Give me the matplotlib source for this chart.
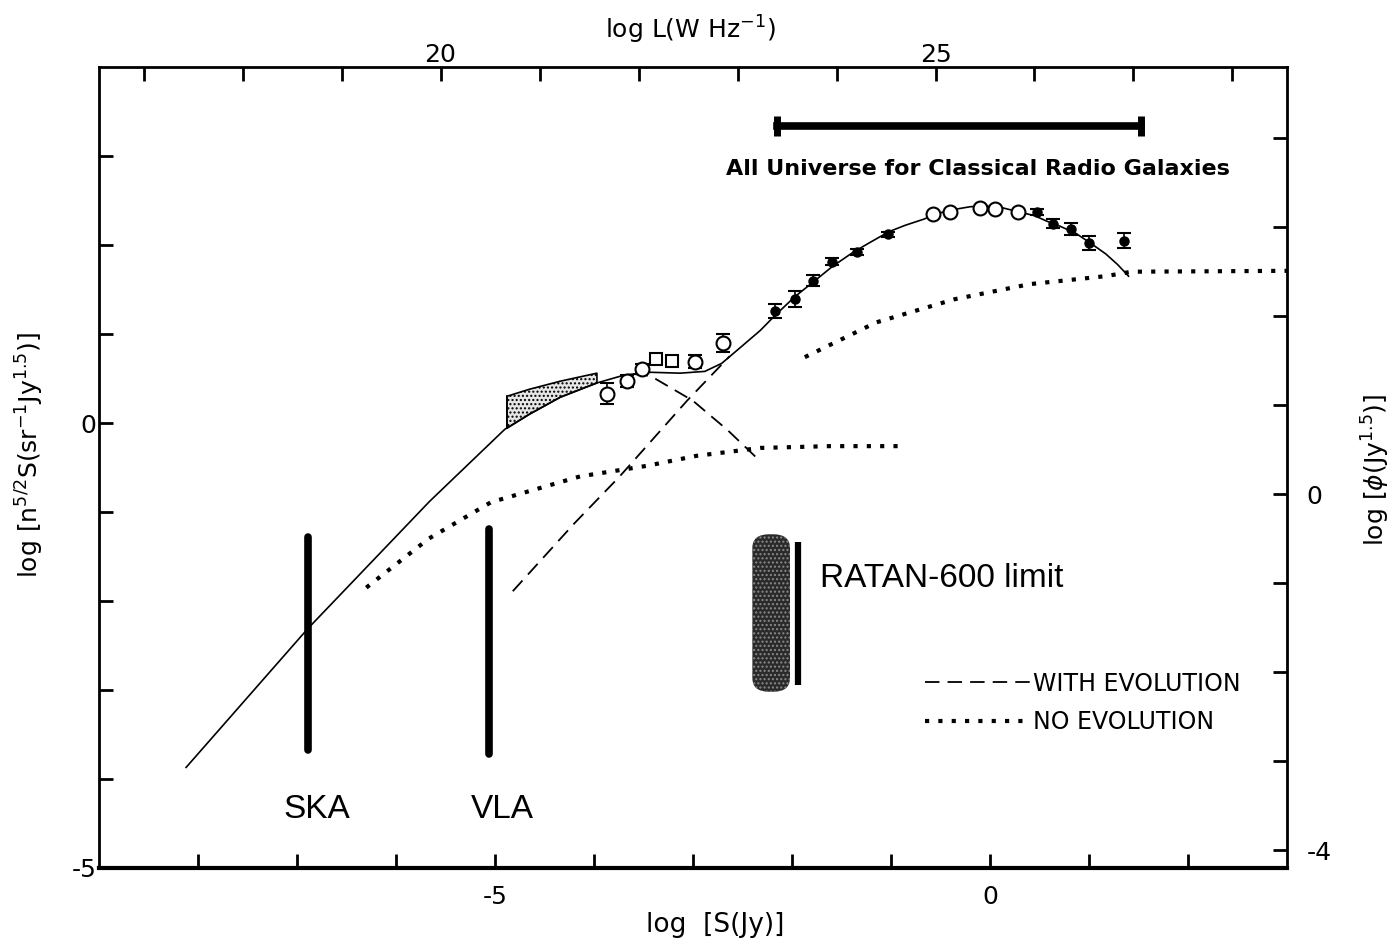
import matplotlib.pyplot as plt
from matplotlib.patches import FancyBboxPatch
from matplotlib.ticker import FixedLocator, FuncFormatter

# model curve: log S (Jy) vs log n^{5/2} S
model_s = [-8.12, -6.89, -5.66, -4.90, -4.65, -4.34, -3.97, -3.69, -3.43, -3.13, -2.88,
           -2.71, -2.53, -2.32, -2.17, -1.97, -1.79, -1.59, -1.38, -1.21, -1.02, -0.86,
           -0.67, -0.51, -0.36, -0.20, -0.05, 0.12, 0.30, 0.45, 0.57, 0.71, 0.87, 1.03,
           1.17, 1.29, 1.40]
model_y = [-3.87, -2.31, -0.88, -0.07, 0.10, 0.29, 0.45, 0.54, 0.57, 0.56, 0.58,
           0.67, 0.84, 1.04, 1.21, 1.42, 1.58, 1.76, 1.92, 2.03, 2.15, 2.22,
           2.29, 2.36, 2.40, 2.43, 2.44, 2.42, 2.37, 2.33, 2.27, 2.21, 2.13, 2.01,
           1.90, 1.78, 1.65]

# shaded P(D) region
pd_s = [-4.88, -4.65, -4.34, -3.97]
pd_lo = [-0.06, 0.10, 0.29, 0.45]
pd_hi = [0.30, 0.38, 0.47, 0.56]

# evolving components
evo_down_s = [-3.60, -3.43, -3.00, -2.65, -2.32]
evo_down_y = [0.55, 0.53, 0.25, -0.08, -0.43]
evo_up_s = [-4.82, -4.20, -3.74, -3.06, -2.63]
evo_up_y = [-1.89, -1.13, -0.60, 0.25, 0.75]

# non-evolving components
noevo_lo_s = [-6.30, -5.67, -5.04, -4.14, -3.46, -2.97, -2.32, -1.62, -0.88]
noevo_lo_y = [-1.85, -1.30, -0.89, -0.60, -0.48, -0.37, -0.28, -0.26, -0.26]
noevo_hi_s = [-1.87, -1.15, -0.36, 0.40, 1.17, 1.43, 3.03]
noevo_hi_y = [0.74, 1.13, 1.39, 1.56, 1.65, 1.70, 1.71]

# source counts
open_s = [-3.87, -3.67, -3.51, -2.98, -2.70]
open_y = [0.33, 0.47, 0.61, 0.69, 0.90]
open_err = [0.12, 0.07, 0.05, 0.07, 0.10]
sq_s = [-3.37, -3.21]
sq_y = [0.72, 0.70]
sq_err = [0.06, 0.03]
mid_s = [-2.17, -1.97, -1.79, -1.60, -1.34, -1.03]
mid_y = [1.26, 1.39, 1.60, 1.81, 1.92, 2.12]
mid_err = [0.08, 0.09, 0.06, 0.04, 0.03, 0.03]
peak_s = [-0.58, -0.40, -0.10, 0.05, 0.28]
peak_y = [2.35, 2.37, 2.42, 2.40, 2.37]
hi_s = [0.48, 0.64, 0.82, 1.00, 1.35]
hi_y = [2.37, 2.24, 2.18, 2.02, 2.05]
hi_err = [0.03, 0.05, 0.07, 0.08, 0.08]

# survey limits
ska_s, ska_y = -6.89, (-1.28, -3.67)
vla_s, vla_y = -5.06, (-1.19, -3.72)
ratan_s, ratan_y = -1.94, (-1.34, -2.94)
ratan_box = (-2.40, -3.02, 0.38, 1.77)   # s0, y0, width, height
universe_s, universe_y = (-2.15, 1.53), 3.34

L_OFFSET = 25.55     # log L = log S + offset
PHI_OFFSET = 0.80    # log phi = left axis + offset

narrow = ['Liberation Sans Narrow', 'DejaVu Sans']

fig = plt.figure(figsize=(13.94, 9.48), dpi=100)
ax = fig.add_axes([0.0710, 0.0844, 0.8522, 0.8449])
ax.set_xlim(-9, 3)
ax.set_ylim(-5, 4)

ax.plot(model_s, model_y, color='black', lw=1.2)
ax.fill_between(pd_s, pd_lo, pd_hi, facecolor='#e6e6e6', edgecolor='black',
                hatch='....', lw=1.2)
ax.plot([pd_s[0], pd_s[0]], [pd_lo[0], pd_hi[0]], color='black', lw=1.2)

dash = dict(color='black', lw=1.3, dashes=(8, 4.5))
dot = dict(color='black', lw=3.0, dashes=(1, 2.2))
l_evo, = ax.plot(evo_down_s, evo_down_y, **dash)
ax.plot(evo_up_s, evo_up_y, **dash)
l_noevo, = ax.plot(noevo_lo_s, noevo_lo_y, **dot)
ax.plot(noevo_hi_s, noevo_hi_y, **dot)

eb = dict(color='black', ecolor='black', elinewidth=1.2, capsize=5, capthick=1.5, ls='none')
ax.errorbar(open_s, open_y, yerr=open_err, marker='o', ms=10, mfc='white', mew=1.5, **eb)
ax.errorbar(sq_s, sq_y, yerr=sq_err, marker='s', ms=9, mfc='white', mew=1.5, **eb)
ax.errorbar(mid_s, mid_y, yerr=mid_err, marker='o', ms=6.5, **eb)
ax.plot(peak_s, peak_y, ls='none', marker='o', ms=10, mfc='white', mec='black', mew=1.5)
ax.errorbar(hi_s, hi_y, yerr=hi_err, marker='o', ms=6.5, **eb)

# survey sensitivity limits
bar = dict(color='black', lw=5.5, solid_capstyle='round')
ax.plot([ska_s, ska_s], ska_y, **bar)
ax.plot([vla_s, vla_s], vla_y, **bar)
ax.plot([ratan_s, ratan_s], ratan_y, color='black', lw=4.5, solid_capstyle='butt')
blob = FancyBboxPatch((ratan_box[0], ratan_box[1]), ratan_box[2], ratan_box[3],
                      boxstyle='round,pad=0,rounding_size=0.17', mutation_aspect=0.9,
                      facecolor='#2a2a2a', edgecolor='#8a8a8a', lw=0, hatch='....')
ax.add_patch(blob)

big = dict(fontsize=24, family=['Liberation Sans', 'DejaVu Sans'])
ax.text(-6.80, -4.34, 'SKA', ha='center', va='center', **big)
ax.text(-4.93, -4.34, 'VLA', ha='center', va='center', **big)
ax.text(-1.72, -1.75, 'RATAN-600 limit', ha='left', va='center', **big)

ax.plot(universe_s, [universe_y, universe_y], color='black', lw=5.5,
        marker='|', ms=15, mew=5)
ax.text(-0.12, 2.85, 'All Universe for Classical Radio Galaxies', ha='center',
        va='center', fontsize=16, fontweight='bold', family=narrow)

ax.legend([l_evo, l_noevo], ['WITH EVOLUTION', 'NO EVOLUTION'], loc='upper left',
          bbox_to_anchor=(0.695, 0.245), frameon=False, handlelength=4.5,
          handletextpad=0.1, borderpad=0, borderaxespad=0, labelspacing=0.6,
          prop={'family': narrow, 'size': 17})


def only(labels):
    return FuncFormatter(lambda v, p: labels.get(int(round(v)), ''))


for side in ['left', 'right', 'top', 'bottom']:
    ax.spines[side].set_linewidth(2)
ax.spines['bottom'].set_linewidth(3)
ax.xaxis.set_major_locator(FixedLocator(range(-8, 3)))
ax.xaxis.set_major_formatter(only({-5: '-5', 0: '0'}))
ax.yaxis.set_major_locator(FixedLocator(range(-5, 4)))
ax.yaxis.set_major_formatter(only({-5: '-5', 0: '0'}))
ax.tick_params(direction='in', length=10, width=2, labelsize=18, pad=12)
ax.tick_params(axis='y', pad=2)

top = ax.secondary_xaxis('top', functions=(lambda s: s + L_OFFSET, lambda l: l - L_OFFSET))
top.xaxis.set_major_locator(FixedLocator(range(17, 29)))
top.xaxis.set_major_formatter(only({20: '20', 25: '25'}))
top.tick_params(direction='in', length=10, width=2, labelsize=18, pad=0)

right = ax.secondary_yaxis('right', functions=(lambda y: y + PHI_OFFSET, lambda p: p - PHI_OFFSET))
right.yaxis.set_major_locator(FixedLocator(range(-4, 5)))
right.yaxis.set_major_formatter(only({0: '0', -4: '-4'}))
right.tick_params(direction='in', length=10, width=2, labelsize=18, pad=14)

fig.text(715 / 1394, 1 - 925 / 948, 'log  [S(Jy)]', ha='center', va='center', fontsize=19)
fig.text(690 / 1394, 1 - 30 / 948, r'log L(W Hz$^{-1}$)', ha='center', va='center', fontsize=18)
fig.text(30 / 1394, 1 - 455 / 948, r'log [n$^{5/2}$S(sr$^{-1}$Jy$^{1.5}$)]', ha='center',
         va='center', rotation=90, fontsize=18)
fig.text(1376 / 1394, 1 - 470 / 948, r'log [$\phi$(Jy$^{1.5}$)]', ha='center',
         va='center', rotation=90, fontsize=18)

fig.savefig('out.png', dpi=100)
